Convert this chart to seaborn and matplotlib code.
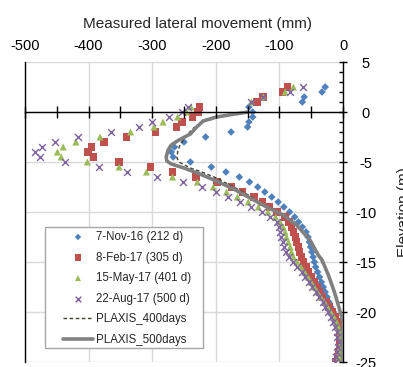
import matplotlib
matplotlib.use("Agg")
import matplotlib.pyplot as plt
import seaborn as sns
from matplotlib.ticker import MultipleLocator
from matplotlib.patches import Rectangle

# ---------------- data ----------------
elevation = [2.5, 2.0, 1.5, 1.0, 0.5, 0.0, -0.5, -1.0, -1.5, -2.0, -2.5, -3.0, -3.5, -4.0,
             -4.5, -5.0, -5.5, -6.0, -6.5, -7.0, -7.5, -8.0, -8.5, -9.0, -9.5, -10.0, -10.5,
             -11.0, -11.5, -12.0, -12.5, -13.0, -13.5, -14.0, -14.5, -15.0, -15.5, -16.0,
             -16.5, -17.0, -17.5, -18.0, -18.5, -19.0, -19.5, -20.0, -20.5, -21.0, -21.5,
             -22.0, -22.5, -23.0, -23.5, -24.0, -24.5, -25.0]

nov16 = [-28, -33, -61, -64, -148, -142, -142, -148, -150, -176, -216, -250, -265, -270,
         -267, -240, -207, -184, -163, -147, -134, -123, -112, -102, -93, -84, -76,
         -70, -64, -58, -55, -53, -51, -49, -47, -45, -43, -40,
         -37, -34, -31, -28, -25, -22, -19, -15, -12, -9, -6,
         -3, -2, -2, -3, -4, -5, -6]

feb17 = [-87, -95, -126, -135, -226, -228, -237, -253, -262, -295, -340, -376, -395, -401,
         -392, -352, -303, -268, -231, -198, -175, -158, -140, -127, -116, -104, -91,
         -85, -81, -78, -75, -73, -70, -68, -65, -62, -58, -55,
         -50, -45, -41, -37, -32, -27, -22, -17, -12, -9, -6,
         -5, -5, -5, -6, -7, -9, -11]

may17 = [-78, -91, -125, -144, -239, -246, -260, -283, -297, -334, -382, -420, -440, -449,
         -443, -402, -352, -309, -268, -229, -204, -183, -166, -149, -133, -118, -106,
         -99, -94, -91, -89, -86, -83, -81, -78, -72, -66, -60,
         -55, -50, -45, -40, -35, -29, -24, -19, -14, -10, -7,
         -4, -3, -3, -4, -5, -6, -8]

aug17 = [-63, -83, -126, -144, -244, -253, -274, -301, -321, -364, -416, -453, -473, -484,
         -477, -437, -384, -339, -293, -251, -221, -200, -181, -162, -145, -128, -114,
         -104, -101, -99, -97, -95, -92, -89, -85, -79, -72, -65,
         -60, -54, -48, -43, -37, -32, -28, -24, -19, -15, -12,
         -10, -9, -7, -8, -10, -11, -13]

plaxis400_x = [-149, -170, -199, -220, -235, -245, -251, -257, -260, -261, -258, -240, -222,
               -199, -172, -146, -120, -94, -73, -52, -39, -23, -13, -2, 0, 0]
plaxis400_y = [0.0, -0.2, -0.6, -1.0, -1.6, -2.3, -2.8, -3.4, -4.0, -4.6, -5.0, -5.6, -6.0,
               -6.6, -7.5, -8.4, -9.5, -10.3, -11.3, -12.8, -14.3, -16.3, -18.1, -20.5, -21.0, -25.0]

plaxis500_x = [-149, -170, -199, -220, -230, -240, -258, -270, -275, -278, -277, -270, -250,
               -225, -199, -172, -146, -120, -94, -73, -52, -39, -33, -23, -13, -2, 0, 0]
plaxis500_y = [0.0, -0.2, -0.5, -0.9, -1.5, -2.2, -2.8, -3.3, -3.8, -4.5, -4.9, -5.2, -5.6,
               -6.2, -6.9, -7.7, -8.6, -9.5, -10.3, -11.3, -12.8, -14.3, -14.8, -16.3, -18.1,
               -20.5, -21.0, -25.0]

series_labels = ["7-Nov-16 (212 d)", "8-Feb-17 (305 d)", "15-May-17 (401 d)", "22-Aug-17 (500 d)"]
line_labels = ["PLAXIS_400days", "PLAXIS_500days"]
x_ticks = [-500, -400, -300, -200, -100, 0]
y_ticks = [5, 0, -5, -10, -15, -20, -25]

# ---------------- style ----------------
sns.set_style("white")
plt.rcParams["font.family"] = ["Liberation Sans", "DejaVu Sans"]
plt.rcParams["axes.unicode_minus"] = False

fig = plt.figure(figsize=(4.03, 3.67), dpi=100)
ax = fig.add_axes([25 / 403, 5 / 367, 318 / 403, 300 / 367])

colors = ["#4F81BD", "#C0504D", "#9BBB59", "#8064A2"]
markers = ["D", "s", "^", "x"]
sizes = [15, 28, 26, 24]
for vals, lab, c, m, s in zip([nov16, feb17, may17, aug17], series_labels, colors, markers, sizes):
    if m == "x":
        sns.scatterplot(x=vals, y=elevation, marker=m, color=c, s=s, linewidth=1.0,
                        label=lab, ax=ax, zorder=3)
    else:
        sns.scatterplot(x=vals, y=elevation, marker=m, color=c, s=s, edgecolor="none",
                        linewidth=0, label=lab, ax=ax, zorder=3)

sns.lineplot(x=plaxis400_x, y=plaxis400_y, sort=False, estimator=None, color="#404030",
             linewidth=1.0, dashes=False, linestyle=(0, (2.6, 1.8)), label=line_labels[0],
             ax=ax, zorder=4)
sns.lineplot(x=plaxis500_x, y=plaxis500_y, sort=False, estimator=None, color="#808080",
             linewidth=2.6, label=line_labels[1], ax=ax, zorder=4)

ax.set_xlim(-500, 0)
ax.set_ylim(-25, 5)

# grid
ax.set_xticks(x_ticks)
ax.set_yticks(y_ticks)
ax.grid(True, color="#d9d9d9", linewidth=1.0)
ax.set_axisbelow(True)

# x axis labels on top
ax.xaxis.tick_top()
ax.xaxis.set_label_position("top")
ax.tick_params(axis="x", length=0, pad=6.5, labelsize=10.5, colors="black")
ax.set_xlabel("Measured lateral movement (mm)", fontsize=11)
ax.xaxis.set_label_coords(0.541, 1.113)

# y axis on right
ax.yaxis.tick_right()
ax.yaxis.set_label_position("right")
ax.yaxis.set_minor_locator(MultipleLocator(1))
ax.tick_params(axis="y", which="major", direction="inout", length=6, width=1,
               pad=13.5, labelsize=10.5, colors="black")
ax.tick_params(axis="y", which="minor", direction="in", length=3, width=1, colors="black")
for t in ax.get_yticklabels():
    t.set_horizontalalignment("center")
ax.set_ylabel("Elevation (m)", fontsize=11, labelpad=15)

for side in ["top", "bottom"]:
    ax.spines[side].set_visible(False)
for side in ["left", "right"]:
    ax.spines[side].set_visible(True)
    ax.spines[side].set_color("black")
    ax.spines[side].set_linewidth(1.0)

# horizontal axis line at elevation 0 with tick marks (overlay axes, same limits)
ax0 = fig.add_axes(ax.get_position(), facecolor="none")
ax0.set_xlim(ax.get_xlim())
ax0.set_ylim(ax.get_ylim())
ax0.grid(False)
ax0.patch.set_visible(False)
for side in ["top", "left", "right"]:
    ax0.spines[side].set_visible(False)
ax0.spines["bottom"].set_visible(True)
ax0.spines["bottom"].set_position(("data", 0))
ax0.spines["bottom"].set_color("black")
ax0.spines["bottom"].set_linewidth(1.0)
ax0.xaxis.set_ticks_position("bottom")
ax0.xaxis.set_major_locator(MultipleLocator(50))
ax0.tick_params(axis="x", which="major", direction="inout", length=8, width=1,
                colors="black", labelbottom=False, labeltop=False, bottom=True, top=False)
ax0.tick_params(axis="y", left=False, right=False, labelleft=False, labelright=False)

# legend
handles, labels = ax.get_legend_handles_labels()
if ax.get_legend() is not None:
    ax.get_legend().remove()
fig.patches.append(Rectangle((45 / 403, 1 - 348 / 367), 158 / 403, 121 / 367,
                             transform=fig.transFigure, facecolor="white",
                             edgecolor="#a6a6a6", linewidth=1.0, zorder=1))
fig.legend(handles, labels, loc="upper left", bbox_to_anchor=(63 / 403, 1 - 231 / 367),
           bbox_transform=fig.transFigure, frameon=False, fontsize=8.3,
           borderpad=0, borderaxespad=0, handlelength=2.6, handletextpad=0.3,
           labelspacing=0.74, markerscale=0.85)

fig.savefig("out.png", dpi=100)
